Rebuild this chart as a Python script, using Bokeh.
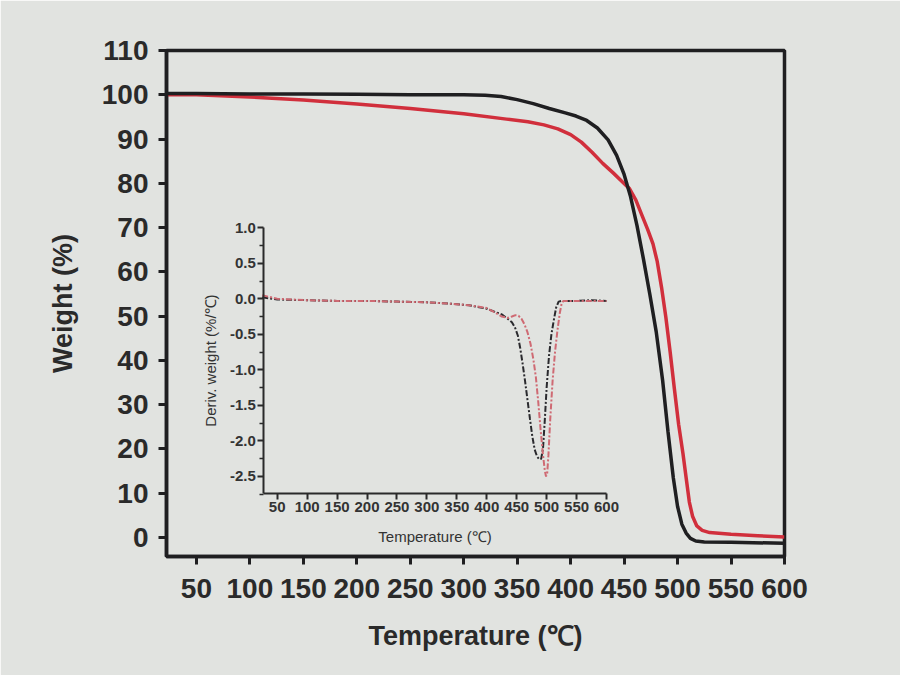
from bokeh.plotting import figure
from bokeh.models import Range1d, LinearAxis, FixedTicker, NumeralTickFormatter
from bokeh.embed import file_html
from bokeh.resources import INLINE

# ---- main TGA data ----
temp_black = [22, 50, 100, 150, 200, 250, 300, 320, 335, 350, 365, 380, 395, 405, 415, 425, 435, 443,
              450, 456, 462, 468, 474, 480, 486, 491, 496, 500, 504, 508, 512, 517, 525, 550, 600]
weight_black = [100.3, 100.3, 100.2, 100.2, 100.1, 100.0, 100.0, 99.9, 99.6, 98.9, 98.0, 96.9, 95.9,
                95.2, 94.2, 92.5, 89.8, 86.3, 82.0, 77.0, 70.5, 63.0, 55.0, 46.5, 35.5, 24.0, 13.5,
                7.0, 3.0, 1.0, -0.2, -0.8, -1.0, -1.1, -1.3]
temp_red = [22, 50, 100, 150, 200, 250, 300, 340, 360, 375, 388, 400, 410, 420, 430, 440, 449, 455,
            461, 467, 472, 477, 481, 485, 489, 493, 497, 501, 505, 508, 511, 514, 518, 523, 530, 550,
            575, 600]
weight_red = [100.0, 100.0, 99.5, 98.8, 97.9, 96.9, 95.7, 94.5, 93.9, 93.2, 92.3, 91.0, 89.3, 87.0,
              84.5, 82.3, 80.2, 78.8, 76.2, 72.6, 69.6, 66.3, 62.3, 56.5, 49.8, 42.0, 33.6, 25.5,
              19.0, 13.5, 8.0, 4.8, 2.6, 1.6, 1.1, 0.7, 0.4, 0.1]

# ---- inset DTG data ----
dtg_temp_black = [25, 50, 100, 150, 200, 250, 300, 340, 370, 400, 425, 435, 442, 447, 452, 456, 460,
                  464, 468, 472, 476, 480, 484, 488, 491, 494, 497, 500, 504, 508, 512, 516, 520, 525,
                  550, 575, 600]
dtg_black = [0.02, -0.01, -0.02, -0.03, -0.03, -0.04, -0.05, -0.07, -0.09, -0.14, -0.22, -0.28, -0.33,
             -0.40, -0.52, -0.70, -0.92, -1.16, -1.42, -1.68, -1.93, -2.12, -2.22, -2.26, -2.25,
             -2.10, -1.70, -1.25, -0.80, -0.50, -0.30, -0.12, -0.04, -0.03, -0.03, -0.02, -0.03]
dtg_temp_red = [25, 50, 100, 150, 200, 250, 300, 340, 370, 400, 415, 425, 435, 442, 448, 453, 458, 463,
                468, 473, 478, 482, 486, 490, 494, 497, 499, 501, 503, 506, 510, 514, 518, 522, 525,
                528, 560, 600]
dtg_red = [0.05, 0.0, -0.02, -0.03, -0.03, -0.04, -0.05, -0.07, -0.09, -0.13, -0.20, -0.25, -0.27,
           -0.25, -0.23, -0.24, -0.28, -0.36, -0.47, -0.63, -0.86, -1.10, -1.45, -1.85, -2.20, -2.42,
           -2.50, -2.45, -2.20, -1.70, -1.15, -0.75, -0.45, -0.20, -0.07, -0.03, -0.03, -0.03]

x_ticks = [50, 100, 150, 200, 250, 300, 350, 400, 450, 500, 550, 600]
y_ticks = [0, 10, 20, 30, 40, 50, 60, 70, 80, 90, 100, 110]
inset_x_ticks = [50, 100, 150, 200, 250, 300, 350, 400, 450, 500, 550, 600]
inset_y_ticks = [-2.5, -2.0, -1.5, -1.0, -0.5, 0.0, 0.5, 1.0]
inset_y_minor = [-2.75, -2.25, -1.75, -1.25, -0.75, -0.25, 0.25, 0.75]

BG = "#e1e3e0"
INK = "#1f1f21"
RED = "#d12f3c"
PINK = "#cf6a73"
FONT = "Liberation Sans"

p = figure(width=900, height=675, x_range=Range1d(22, 600), y_range=Range1d(-4.3, 110),
           output_backend="svg", toolbar_location=None,
           min_border_left=166, min_border_right=116, min_border_top=50, min_border_bottom=119)
p.background_fill_color = BG
p.border_fill_color = BG
p.xgrid.visible = False
p.ygrid.visible = False
p.outline_line_color = INK
p.outline_line_width = 3.5

# main axes
for ax in (p.xaxis[0], p.yaxis[0]):
    ax.axis_line_color = INK
    ax.axis_line_width = 3.5
    ax.major_tick_line_color = INK
    ax.major_tick_line_width = 3
    ax.major_tick_out = 8
    ax.major_tick_in = 0
    ax.minor_tick_line_color = None
    ax.major_label_text_font = FONT
    ax.major_label_text_font_style = "bold"
    ax.major_label_text_font_size = "28px"
    ax.major_label_text_color = "#2a2a2a"
    ax.axis_label_text_font = FONT
    ax.axis_label_text_font_style = "bold"
    ax.axis_label_text_font_size = "27px"
    ax.axis_label_text_color = "#2a2a2a"

p.xaxis[0].ticker = FixedTicker(ticks=x_ticks)
p.yaxis[0].ticker = FixedTicker(ticks=y_ticks)
p.xaxis[0].axis_label = "Temperature (℃)"
p.yaxis[0].axis_label = "Weight (%)"
p.xaxis[0].major_label_standoff = 14
p.yaxis[0].major_label_standoff = 10
p.xaxis[0].axis_label_standoff = 20
p.yaxis[0].axis_label_standoff = 21

p.line(temp_red, weight_red, line_color=RED, line_width=3.5)
p.line(temp_black, weight_black, line_color=INK, line_width=3.5)

# inset (extra ranges mapped onto a sub-region of the frame)
p.extra_x_ranges = {"ix": Range1d(-134.9, 897.3)}
p.extra_y_ranges = {"iy": Range1d(-3.626, 3.493)}

iy_axis = LinearAxis(x_range_name="ix", y_range_name="iy", fixed_location=27.6, bounds=(-2.74, 1.0),
                     ticker=FixedTicker(ticks=inset_y_ticks, minor_ticks=inset_y_minor),
                     formatter=NumeralTickFormatter(format="0.0"),
                     axis_label="Deriv. weight (%/℃)")
ix_axis = LinearAxis(x_range_name="ix", y_range_name="iy", fixed_location=-2.74, bounds=(27.6, 600),
                     ticker=FixedTicker(ticks=inset_x_ticks),
                     axis_label="Temperature (℃)")
for ax in (iy_axis, ix_axis):
    ax.axis_line_color = "#2a2a2a"
    ax.axis_line_width = 2
    ax.major_tick_line_color = "#2a2a2a"
    ax.major_tick_line_width = 2
    ax.major_tick_out = 6
    ax.major_tick_in = 0
    ax.minor_tick_line_color = "#2a2a2a"
    ax.minor_tick_line_width = 1.5
    ax.minor_tick_out = 4
    ax.minor_tick_in = 0
    ax.major_label_text_font = FONT
    ax.major_label_text_font_style = "bold"
    ax.major_label_text_font_size = "15px"
    ax.major_label_text_color = "#333333"
    ax.major_label_standoff = 2
    ax.axis_label_text_font = FONT
    ax.axis_label_text_font_style = "normal"
    ax.axis_label_text_font_size = "15px"
    ax.axis_label_text_color = "#333333"
ix_axis.minor_tick_line_color = None
iy_axis.axis_label_standoff = 8
ix_axis.axis_label_standoff = 13
p.add_layout(iy_axis, "left")
p.add_layout(ix_axis, "below")

p.line(dtg_temp_black, dtg_black, x_range_name="ix", y_range_name="iy",
       line_color="#2a2a2e", line_width=2, line_dash="6 2 2 2")
p.line(dtg_temp_red, dtg_red, x_range_name="ix", y_range_name="iy",
       line_color=PINK, line_width=2, line_dash="6 2 2 2")

open("out.html", "w").write(file_html(p, INLINE))
